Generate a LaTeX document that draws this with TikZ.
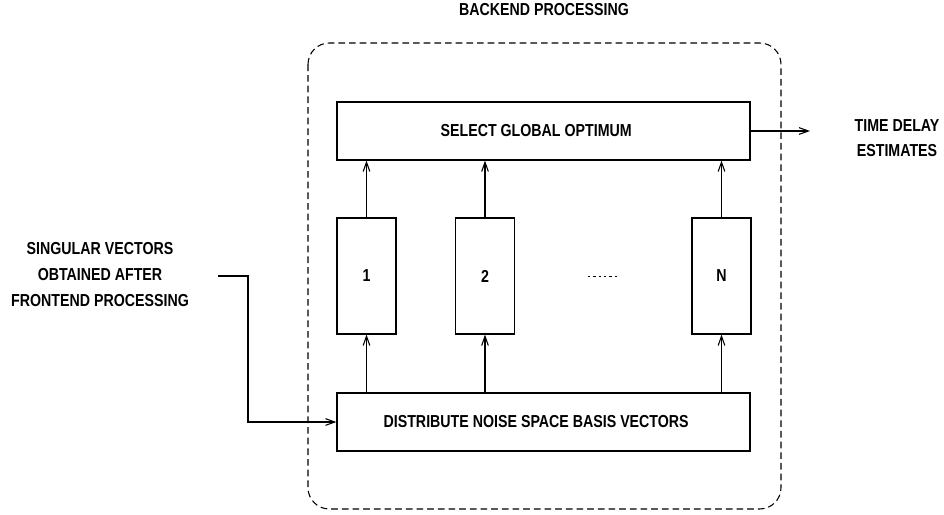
\documentclass[tikz,border=0pt]{standalone}
\usepackage{fontspec}
\setmainfont[FakeStretch=0.82]{Liberation Sans}
\usetikzlibrary{arrows.meta}
\begin{document}
\begin{tikzpicture}[x=0.75pt,y=-0.75pt,
  txt/.style={font=\bfseries\fontsize{13}{15}\selectfont},
  box/.style={draw,line width=0.9pt,inner sep=0pt,txt},
  arr/.style={line width=0.8pt,-{Straight Barb[length=7pt,width=5pt]}}]
  \useasboundingbox (0,0) rectangle (944,514);
  \node[txt] (title) at (544,10) {BACKEND PROCESSING};
  \draw[line width=0.8pt,dash pattern=on 5pt off 3pt,rounded corners=16pt] (308,43) rectangle (781,509);
  \node[box,minimum width=309.75pt,minimum height=43.5pt] (sel) at (543.5,131) {SELECT GLOBAL OPTIMUM\hspace*{11pt}};
  \node[box,minimum width=44.25pt,minimum height=87pt] (k1) at (366.5,276) {1};
  \node[box,minimum width=44.25pt,minimum height=87pt] (k2) at (485,276) {2};
  \node[box,minimum width=44.25pt,minimum height=87pt] (kN) at (721.5,276) {N};
  \node[box,minimum width=309.75pt,minimum height=43.5pt] (dist) at (543.5,422) {DISTRIBUTE NOISE SPACE BASIS VECTORS\hspace*{11pt}};
  \draw[line width=0.7pt,dash pattern=on 1.8pt off 2.2pt] (588,276) -- (619,276);
  \node[txt,font=\bfseries\fontsize{13}{19.5}\selectfont,align=center] (inp) at (100,275) {SINGULAR VECTORS\\OBTAINED AFTER\\FRONTEND PROCESSING};
  \node[txt,font=\bfseries\fontsize{13}{18.75}\selectfont,align=center] (est) at (897,138.5) {TIME DELAY\\ESTIMATES};
  \coordinate (in) at (218,276);
  \coordinate (out) at (810,131);
  \draw[arr] (in) -- ++(30,0) |- (dist.west);
  \draw[arr] (sel.east) -- (out);
  \foreach \k in {k1,k2,kN} {
    \draw[arr] (dist.north -| \k) -- (\k.south);
    \draw[arr] (\k.north) -- (sel.south -| \k);
  }
\end{tikzpicture}
\end{document}
